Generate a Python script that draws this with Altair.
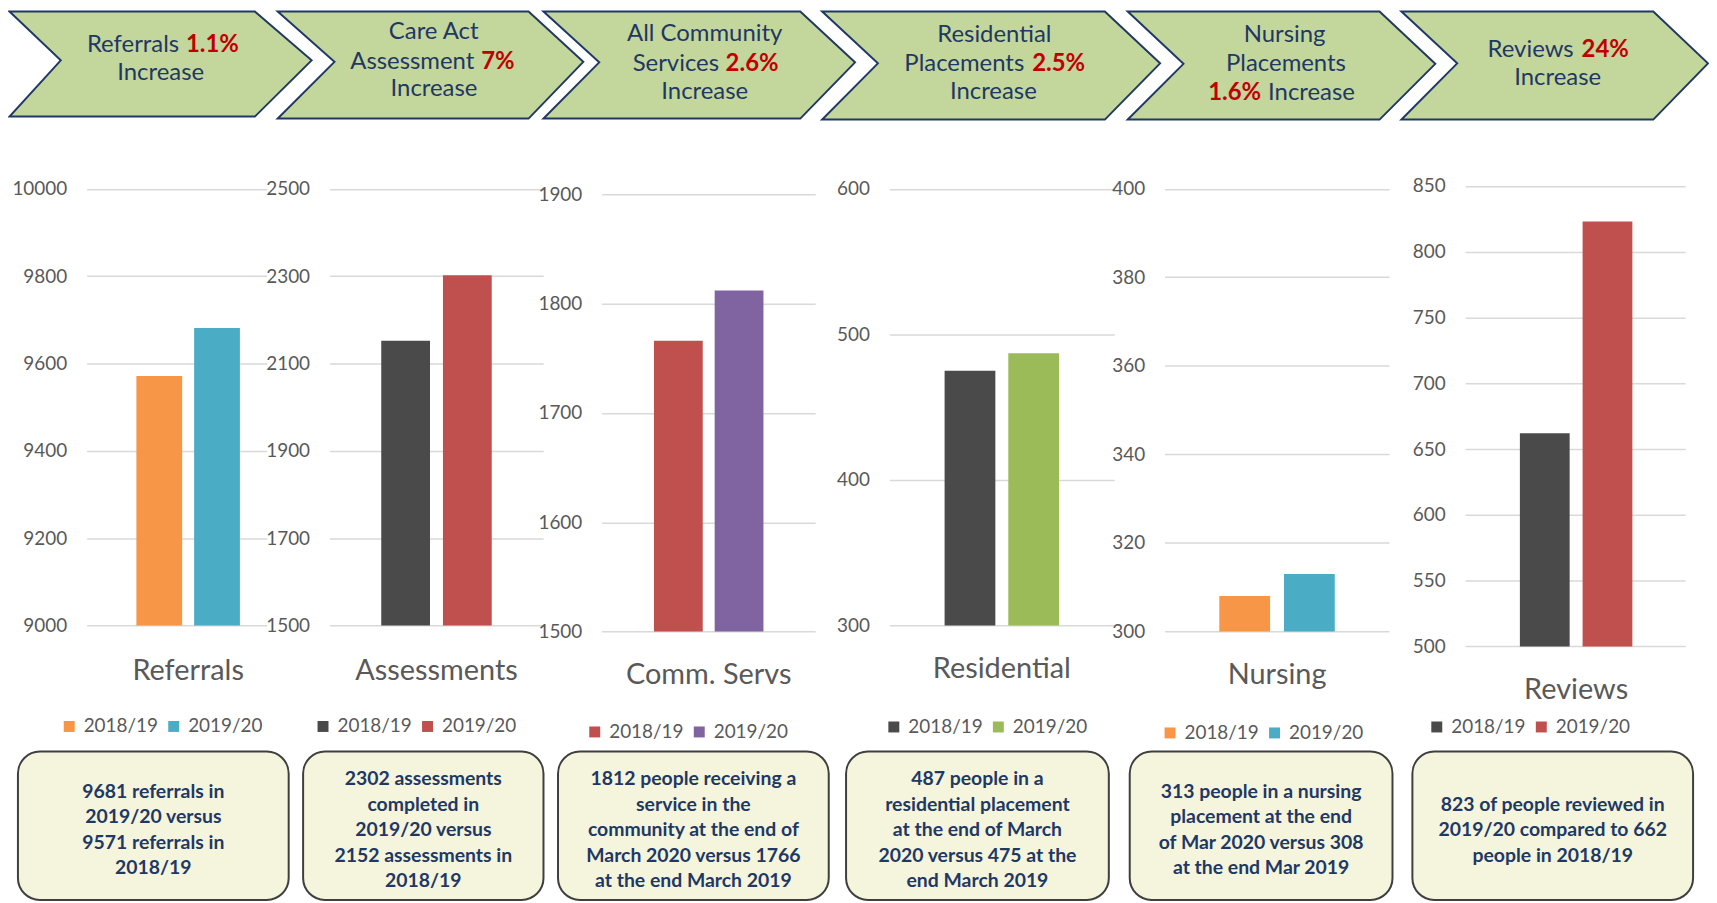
import altair as alt
import pandas as pd

# ------------------------------------------------------------------ data
CATEGORIES = ["Referrals", "Assessments", "Comm. Servs", "Residential", "Nursing", "Reviews"]
YEARS = ["2018/19", "2019/20"]
REFERRALS = [9571, 9681]
ASSESSMENTS = [2152, 2302]
COMM_SERVS = [1766, 1812]
RESIDENTIAL = [475, 487]
NURSING = [308, 313]
REVIEWS = [662, 823]
SERIES = [REFERRALS, ASSESSMENTS, COMM_SERVS, RESIDENTIAL, NURSING, REVIEWS]

TICKS = [
    [9000, 9200, 9400, 9600, 9800, 10000],
    [1500, 1700, 1900, 2100, 2300, 2500],
    [1500, 1600, 1700, 1800, 1900],
    [300, 400, 500, 600],
    [300, 320, 340, 360, 380, 400],
    [500, 550, 600, 650, 700, 750, 800, 850],
]
PALETTES = [
    ["#F79646", "#4BACC6"],
    ["#4A4A4A", "#C0504D"],
    ["#C0504D", "#8064A2"],
    ["#4A4A4A", "#9BBB59"],
    ["#F79646", "#4BACC6"],
    ["#4A4A4A", "#C0504D"],
]

BOX_LINES = [
    ["9681 referrals in", "2019/20 versus", "9571 referrals in", "2018/19"],
    ["2302 assessments", "completed in", "2019/20 versus", "2152 assessments in", "2018/19"],
    ["1812 people receiving a", "service in the", "community at the end of",
     "March 2020 versus 1766", "at the end March 2019"],
    ["487 people in a", "residential placement", "at the end of March",
     "2020 versus 475 at the", "end March 2019"],
    ["313 people in a nursing", "placement at the end", "of Mar 2020 versus 308",
     "at the end Mar 2019"],
    ["823 of people reviewed in", "2019/20 compared to 662", "people in 2018/19"],
]

# header texts: (text, x, y) grouped by style / alignment
HEAD_NAVY_CENTER = [("Increase", 161.4, 71.7), ("Care Act", 435.7, 30), ("Increase", 436, 87.3),
                    ("All Community", 708, 31.7), ("Increase", 708, 90),
                    ("Residential", 999, 33.3), ("Increase", 998, 90),
                    ("Nursing", 1290.6, 33.3), ("Placements", 1292, 61.7),
                    ("Increase", 1565, 76.7)]
HEAD_NAVY_RIGHT = [("Referrals", 180, 43.3), ("Assessment", 476.5, 60), ("Services", 722.4, 61.7),
                   ("Placements", 1029, 61.7), ("Reviews", 1581, 48.3)]
HEAD_NAVY_LEFT = [("Increase", 1274, 91.7)]
HEAD_RED_LEFT = [("1.1%", 186.8, 43.3), ("7%", 483.5, 60), ("2.6%", 729, 61.7),
                 ("2.5%", 1037, 61.7), ("24%", 1589, 48.3)]
HEAD_RED_RIGHT = [("1.6%", 1267, 91.7)]

# ------------------------------------------------------------------ layout (screen px)
OFF = 8
W, H = 1709, 895
NAVY = "#1F3864"
RED = "#C00000"
GREY = "#595959"

CHEVRONS = [  # left, right, notch, tip, top, bottom
    (5, 256, 61, 313, 2, 115),
    (279, 531, 336, 586, 3, 117),
    (546, 804, 602, 859, 4, 117),
    (826, 1110, 882, 1165.5, 5, 118),
    (1133, 1386, 1189, 1442, 6, 118),
    (1408, 1661, 1464, 1716, 5, 118),
]
BOXES = [(18, 290), (304.5, 546), (560.6, 832.6), (850, 1114), (1135, 1399), (1419, 1701)]
BOX_TOP, BOX_BOTTOM, BOX_TEXT_CY, LINE_H = 753, 902, 832, 25.6

GRID_L = [87, 331, 604.5, 893.5, 1170, 1472]
GRID_R = [268, 545.7, 819, 1119.5, 1395.5, 1693]
Y_TOP = [187.5, 187.5, 193.2, 187.5, 187.5, 184.6]
Y_BOT = [626.3, 626.3, 632.3, 626.3, 632.3, 647.3]
BARS_L = [137, 383, 657, 949, 1225, 1527]
BAR_W = [46, 49, 49, 51, 51, 50]
BAR_GAP = [12, 13, 12, 13, 14, 13]
CAT_BASE = [680.5, 680.5, 685, 679, 685, 700]
LEG_X = [60, 315, 588, 888.5, 1166, 1434]
LEG_CY = [725, 725, 730.5, 725.5, 731.5, 725.5]


def px(v):
    return v - OFF


layers = []

# chevrons
chev_rows = []
for i, (L, R, N, T, top, bot) in enumerate(CHEVRONS):
    mid = (top + bot) / 2
    top_c = max(top, 9.5)
    L_c = max(L, 9.5)
    chev_rows += [
        {"id": i, "y": px(top_c), "x": px(L_c), "x2": px(R)},
        {"id": i, "y": px(mid), "x": px(N), "x2": px(T)},
        {"id": i, "y": px(bot), "x": px(L_c), "x2": px(R)},
    ]
layers.append(
    alt.Chart(pd.DataFrame(chev_rows)).mark_area(
        orient="horizontal", fill="#C3D69B", stroke=NAVY, strokeWidth=2, strokeJoin="miter"
    ).encode(
        y=alt.Y("y:Q", scale=None, axis=None),
        x=alt.X("x:Q", scale=None, axis=None, stack=None),
        x2="x2:Q",
        detail="id:N",
    )
)


def text_layer(items, align, color, weight, size):
    df = pd.DataFrame({"t": [a for a, _, _ in items],
                       "x": [px(b) for _, b, _ in items],
                       "y": [px(c) for _, _, c in items]})
    return alt.Chart(df).mark_text(
        align=align, baseline="middle", color=color, fontWeight=weight,
        font="Lato", fontSize=size
    ).encode(
        x=alt.X("x:Q", scale=None, axis=None),
        y=alt.Y("y:Q", scale=None, axis=None),
        text="t:N",
    )


layers.append(text_layer(HEAD_NAVY_CENTER, "center", NAVY, "normal", 24))
layers.append(text_layer(HEAD_NAVY_RIGHT, "right", NAVY, "normal", 24))
layers.append(text_layer(HEAD_NAVY_LEFT, "left", NAVY, "normal", 24))
layers.append(text_layer(HEAD_RED_LEFT, "left", RED, "bold", 24))
layers.append(text_layer(HEAD_RED_RIGHT, "right", RED, "bold", 24))

# boxes
box_df = pd.DataFrame({"x": [px(a) for a, _ in BOXES], "x2": [px(b) for _, b in BOXES],
                       "y": [px(BOX_TOP)] * 6, "y2": [px(BOX_BOTTOM)] * 6})
layers.append(
    alt.Chart(box_df).mark_rect(
        cornerRadius=22, fill="#F4F5DC", stroke="#3F3F3F", strokeWidth=2
    ).encode(
        x=alt.X("x:Q", scale=None, axis=None), x2="x2:Q",
        y=alt.Y("y:Q", scale=None, axis=None), y2="y2:Q",
    )
)
box_text = []
for (a, b), lines in zip(BOXES, BOX_LINES):
    n = len(lines)
    for k, line in enumerate(lines):
        box_text.append((line, (a + b) / 2, BOX_TEXT_CY + (k - (n - 1) / 2) * LINE_H))
layers.append(text_layer(box_text, "center", NAVY, "bold", 19.5))

# bar panels
for i in range(6):
    df = pd.DataFrame({"cat": [CATEGORIES[i]] * 2, "year": YEARS, "value": SERIES[i]})
    L, R = px(GRID_L[i]), px(GRID_R[i])
    span = R - L
    group_w = 2 * BAR_W[i] + BAR_GAP[i]
    po = (span / group_w - 1) / 2
    align = (px(BARS_L[i]) - L) / (span - group_w)
    pin = BAR_GAP[i] / (BAR_W[i] + BAR_GAP[i])
    layers.append(
        alt.Chart(df).mark_bar().encode(
            x=alt.X("cat:N",
                    scale=alt.Scale(range=[L, R], paddingInner=0, paddingOuter=po, align=align),
                    axis=alt.Axis(orient="bottom", offset=px(CAT_BASE[i]) - H, labelPadding=0,
                                  ticks=False, tickSize=0, domain=False, grid=False, labelAngle=0,
                                  labelBaseline="alphabetic", labelFont="Lato", labelFontSize=29,
                                  labelColor=GREY, title=None, labelLimit=400)),
            xOffset=alt.XOffset("year:N", scale=alt.Scale(paddingInner=pin, paddingOuter=0)),
            y=alt.Y("value:Q",
                    scale=alt.Scale(domain=[TICKS[i][0], TICKS[i][-1]],
                                    range=[px(Y_BOT[i]), px(Y_TOP[i])], nice=False, zero=False),
                    axis=alt.Axis(orient="left", offset=-L, values=TICKS[i], format="d",
                                  grid=True, gridColor="#D9D9D9", gridWidth=1.5,
                                  domain=False, ticks=False, tickSize=0, labelPadding=20,
                                  labelFont="Lato", labelFontSize=19, labelColor=GREY,
                                  labelFlush=False, labelOverlap=False, title=None)),
            y2=alt.datum(TICKS[i][0]),
            color=alt.Color("year:N",
                            scale=alt.Scale(domain=YEARS, range=PALETTES[i]),
                            legend=alt.Legend(orient="none", legendX=px(LEG_X[i]),
                                              legendY=px(LEG_CY[i]) - 7, direction="horizontal",
                                              title=None, symbolType="square", symbolSize=121,
                                              symbolStrokeWidth=0, labelFont="Lato",
                                              labelFontSize=19, labelColor=GREY, labelOffset=5,
                                              columnPadding=6, padding=0)),
        )
    )

chart = alt.layer(*layers).resolve_scale(
    x="independent", y="independent", color="independent", xOffset="independent"
).properties(
    width=W, height=H, autosize=alt.AutoSizeParams(type="none"), padding=0, background="white"
).configure_view(strokeWidth=0)

chart.save("out.html", embed_options={"renderer": "svg", "actions": False})
